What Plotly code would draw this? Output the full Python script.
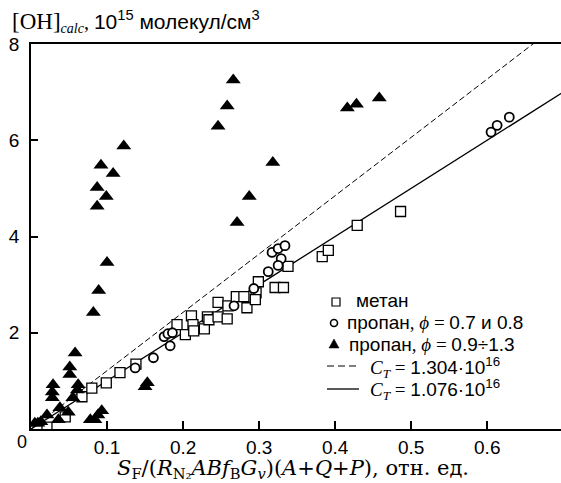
import plotly.graph_objects as go

# метан (open squares)
metan_x = [0.021, 0.045, 0.067, 0.080, 0.099, 0.117, 0.138, 0.192, 0.203, 0.211,
           0.213, 0.214, 0.228, 0.232, 0.234, 0.246, 0.246, 0.258, 0.259, 0.270,
           0.280, 0.284, 0.296, 0.299, 0.295, 0.321, 0.332, 0.338, 0.383, 0.391,
           0.429, 0.486]
metan_y = [0.04, 0.25, 0.67, 0.85, 0.96, 1.17, 1.35, 2.17, 1.96, 2.35,
           2.17, 2.04, 2.08, 2.33, 2.27, 2.33, 2.63, 2.29, 2.56, 2.75,
           2.75, 2.52, 2.83, 3.06, 2.69, 2.94, 2.94, 3.38, 3.58, 3.71,
           4.23, 4.52]

# пропан, phi = 0.7 и 0.8 (open circles)
prop_lean_x = [0.137, 0.161, 0.175, 0.180, 0.186, 0.183, 0.267, 0.293, 0.312,
               0.317, 0.325, 0.334, 0.329, 0.325, 0.605, 0.613, 0.629]
prop_lean_y = [1.27, 1.48, 1.92, 1.98, 2.00, 1.73, 2.56, 2.92, 3.27,
               3.67, 3.75, 3.81, 3.54, 3.40, 6.17, 6.31, 6.48]

# пропан, phi = 0.9 ÷ 1.3 (filled triangles)
prop_rich_x = [0.005, 0.009, 0.013, 0.021, 0.036, 0.038, 0.049, 0.028, 0.028, 0.029,
               0.051, 0.051, 0.058, 0.055, 0.061, 0.062, 0.078, 0.084, 0.088, 0.093,
               0.150, 0.153, 0.082, 0.089, 0.100, 0.087, 0.099, 0.087, 0.108, 0.092,
               0.122, 0.246, 0.258, 0.266, 0.271, 0.287, 0.318, 0.416, 0.428, 0.458]
prop_rich_y = [0.12, 0.12, 0.15, 0.29, 0.19, 0.44, 0.35, 0.65, 0.77, 0.92,
               1.13, 1.29, 1.58, 0.65, 0.81, 0.92, 0.19, 0.19, 0.29, 0.38,
               0.88, 0.96, 2.42, 2.88, 3.46, 4.63, 4.83, 5.02, 5.31, 5.48,
               5.88, 6.29, 6.71, 7.25, 4.29, 4.83, 5.54, 6.67, 6.75, 6.88]

# calibration lines y = k * x
ct_labels = ["1.304", "1.076"]
ct_slopes = [12.12, 10.0]
ct_dashes = ["6px,3px", "solid"]
line_x = [0.0, 0.70]

x_ticks = [0.1, 0.2, 0.3, 0.4, 0.5, 0.6]
y_ticks = [2, 4, 6, 8]

SANS = "Liberation Sans, Arial, sans-serif"
SERIF = "Liberation Serif, Times New Roman, serif"
WIDE_SERIF = "DejaVu Serif, Liberation Serif, serif"

W, H = 561, 483
L, R, T, B = 31, 0, 44, 54
pw, ph = W - L - R, H - T - B


def px(xp):
    return (xp - L) / pw


def py(yp):
    return (H - B - yp) / ph


fig = go.Figure()

for lab, k, dash, lw in zip(ct_labels, ct_slopes, ct_dashes, [1.0, 1.3]):
    fig.add_trace(go.Scatter(
        x=line_x, y=[k * v for v in line_x], mode="lines",
        line=dict(color="black", width=lw, dash=dash), showlegend=False,
    ))

fig.add_trace(go.Scatter(
    x=metan_x, y=metan_y, mode="markers", showlegend=False,
    marker=dict(symbol="square", size=10, color="white",
                line=dict(color="black", width=1.3)),
))
fig.add_trace(go.Scatter(
    x=prop_lean_x, y=prop_lean_y, mode="markers", showlegend=False,
    marker=dict(symbol="circle", size=9, color="white",
                line=dict(color="black", width=1.8)),
))
fig.add_trace(go.Scatter(
    x=prop_rich_x, y=prop_rich_y, mode="markers", showlegend=False,
    marker=dict(symbol="triangle-up", size=13, color="black",
                line=dict(color="black", width=0)),
))

# key: glyphs + labels, one row per series
key_texts = [
    "метан",
    f"пропан<span style='font-family:{SERIF}'>, <i>ϕ</i> = </span>0.7 и 0.8",
    f"пропан<span style='font-family:{SERIF}'>, <i>ϕ</i> = </span>0.9÷1.3",
    f"<span style='font-family:{SERIF}'><i>C<sub>T</sub></i> = </span>{ct_labels[0]}·10<sup>16</sup>",
    f"<span style='font-family:{SERIF}'><i>C<sub>T</sub></i> = </span>{ct_labels[1]}·10<sup>16</sup>",
]
key_rows_y = [300, 322, 344, 367, 389]
key_text_x = [354, 345, 347, 368, 368]

annotations = []
for t, yy, xx in zip(key_texts, key_rows_y, key_text_x):
    annotations.append(dict(
        xref="paper", yref="paper", x=px(xx), y=py(yy),
        xanchor="left", yanchor="middle", showarrow=False,
        text=t, font=dict(family=SANS, size=19, color="black"),
    ))

shapes = [
    dict(type="rect", xref="paper", yref="paper", xsizemode="pixel", ysizemode="pixel",
         xanchor=px(336), yanchor=py(302), x0=-4, x1=4, y0=-4, y1=4,
         line=dict(color="black", width=1.2), fillcolor="white"),
    dict(type="circle", xref="paper", yref="paper", xsizemode="pixel", ysizemode="pixel",
         xanchor=px(334), yanchor=py(323), x0=-3.5, x1=3.5, y0=-3.5, y1=3.5,
         line=dict(color="black", width=1.6), fillcolor="white"),
    dict(type="path", xref="paper", yref="paper", xsizemode="pixel", ysizemode="pixel",
         xanchor=px(334), yanchor=py(344), path="M -5,-4 L 5,-4 L 0,5 Z",
         line=dict(color="black", width=0.5), fillcolor="black"),
    dict(type="line", xref="paper", yref="paper", x0=px(327), x1=px(358),
         y0=py(366), y1=py(366), line=dict(color="black", width=1.0, dash="7px,4px")),
    dict(type="line", xref="paper", yref="paper", x0=px(327), x1=px(359),
         y0=py(389), y1=py(389), line=dict(color="black", width=1.3)),
]

annotations += [
    dict(
        xref="paper", yref="paper", x=px(10), y=py(22),
        xanchor="left", yanchor="middle", showarrow=False,
        text=(f"<span style='font-family:{SERIF};font-size:23px'>[OH]</span>"
              f"<span style='font-family:{SERIF};font-size:20px'><sub><i>calc</i></sub>, </span>"
              "10<sup>15</sup> молекул/см<sup>3</sup>"),
        font=dict(family=SANS, size=21),
    ),
    dict(
        xref="paper", yref="paper", x=px(22), y=py(442),
        xanchor="center", yanchor="middle", showarrow=False,
        text="0", font=dict(family=SANS, size=18),
    ),
    dict(
        xref="paper", yref="paper", x=px(293), y=py(469),
        xanchor="center", yanchor="middle", showarrow=False,
        text=("<i>S</i><sub>F</sub>/(<i>R</i><sub>N₂</sub><i>ABf</i><sub>B</sub>"
              "<i>G<sub>v</sub></i>)(<i>A</i>+<i>Q</i>+<i>P</i>), отн. ед."),
        font=dict(family=WIDE_SERIF, size=21),
    ),
]

fig.update_layout(
    width=W, height=H,
    margin=dict(l=L, r=R, t=T, b=B),
    paper_bgcolor="white", plot_bgcolor="white",
    font=dict(family=SANS, size=18, color="black"),
    showlegend=False,
    xaxis=dict(
        range=[0, 0.697], tickvals=x_ticks, ticktext=[f"{v:g}" for v in x_ticks],
        ticks="inside", ticklen=8, tickwidth=1.5, tickcolor="black",
        showline=True, linecolor="black", linewidth=1.6, mirror=True,
        showgrid=False, zeroline=False,
        tickfont=dict(family=SANS, size=19),
    ),
    yaxis=dict(
        range=[0, 8], tickvals=y_ticks, ticktext=[str(v) for v in y_ticks],
        ticks="inside", ticklen=7, tickwidth=1.5, tickcolor="black",
        showline=True, linecolor="black", linewidth=1.6, mirror=False,
        showgrid=False, zeroline=False, ticklabelstandoff=6,
        tickfont=dict(family=SANS, size=19),
    ),
    annotations=annotations,
    shapes=shapes,
)

fig.write_html("out.html")
